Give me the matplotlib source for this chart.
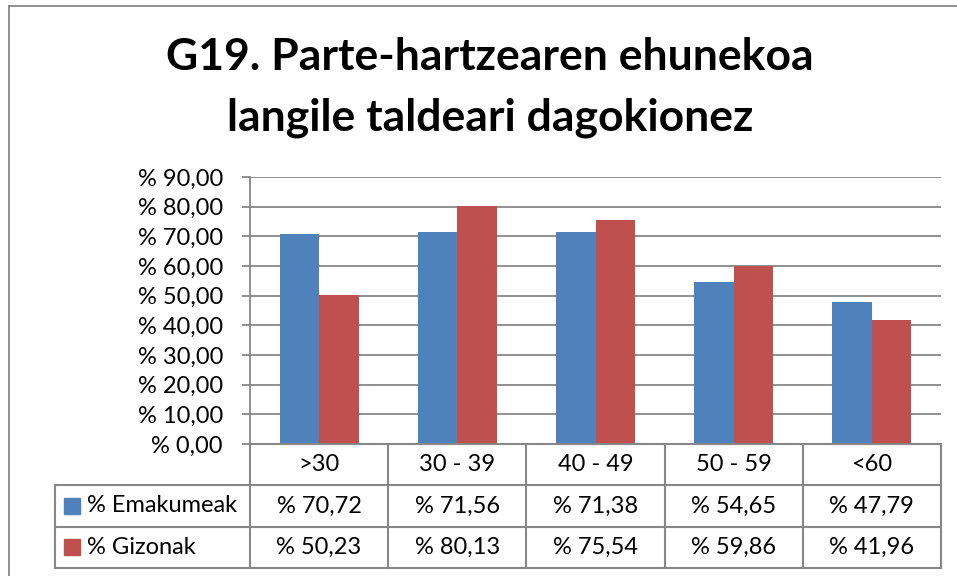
import matplotlib
matplotlib.use("Agg")
import matplotlib.pyplot as plt
from matplotlib.lines import Line2D
import numpy as np

plt.rcParams['font.family'] = ['Lato', 'DejaVu Sans']

# datuak
taldeak = [">30", "30 - 39", "40 - 49", "50 - 59", "<60"]
emakumeak = [70.72, 71.56, 71.38, 54.65, 47.79]
gizonak = [50.23, 80.13, 75.54, 59.86, 41.96]
serieak = ["% Emakumeak", "% Gizonak"]
y_tickak = [0, 10, 20, 30, 40, 50, 60, 70, 80, 90]
titulua = ["G19. Parte-hartzearen ehunekoa", "langile taldeari dagokionez"]

urdina = "#4F81BD"
gorria = "#C0504D"
grisa = "#878787"
tam = 17

def ehuneko(v):
    return ("%% %.2f" % v).replace(".", ",")

W, H = 957, 576
fig = plt.figure(figsize=(W / 100, H / 100), dpi=100)

# kanpoko markoa
fig.add_artist(Line2D([9 / W, 9 / W], [-0.05, 1 - 6 / H], color=grisa, lw=1.3, transform=fig.transFigure))
fig.add_artist(Line2D([9 / W, 1.05], [1 - 6 / H, 1 - 6 / H], color=grisa, lw=1.3, transform=fig.transFigure))

# titulua, bi lerro
for k, lerroa in enumerate(titulua):
    fig.text(490 / W, 1 - (70 + 60 * k) / H, lerroa, ha='center', va='baseline',
             fontsize=32, fontweight='bold')

# grafikoa
ax = fig.add_axes([250 / W, 1 - 444 / H, (941 - 250) / W, (444 - 177) / H])
x = np.arange(len(taldeak))
zab = 0.286
ax.bar(x - zab / 2, emakumeak, zab, color=urdina, zorder=3)
ax.bar(x + zab / 2, gizonak, zab, color=gorria, zorder=3)
ax.set_xlim(-0.5, len(taldeak) - 0.5)
ax.set_ylim(0, 90)
ax.set_yticks(y_tickak)
ax.set_yticklabels([ehuneko(v) for v in y_tickak], fontsize=tam)
ax.set_xticks([])
ax.yaxis.grid(True, color=grisa, lw=1.3, zorder=0)
ax.tick_params(axis='y', length=6, width=1.3, color=grisa, pad=13.5)
for s in ['top', 'right', 'bottom']:
    ax.spines[s].set_visible(False)
ax.spines['left'].set_color(grisa)
ax.spines['left'].set_linewidth(1.3)

# datu taula
zut = (941 - 250) / len(taldeak)
legw = (250 - 55) / zut
tx = fig.add_axes([55 / W, 1 - 568 / H, (941 - 55) / W, (568 - 444) / H])
ezk = -0.5 - legw
tx.set_xlim(ezk, len(taldeak) - 0.5)
tx.set_ylim(3, 0)
tx.axis('off')
for yy in [1, 2, 3]:
    tx.plot([ezk, len(taldeak) - 0.5], [yy, yy], color=grisa, lw=1.5, clip_on=False)
tx.plot([-0.5, len(taldeak) - 0.5], [0, 0], color=grisa, lw=1.5, clip_on=False)
tx.plot([ezk, ezk], [1, 3], color=grisa, lw=1.5, clip_on=False)
for i in range(len(taldeak) + 1):
    tx.plot([i - 0.5, i - 0.5], [0, 3], color=grisa, lw=1.5, clip_on=False)

for i, t in enumerate(taldeak):
    tx.text(i, 0.5, t, ha='center', va='center', fontsize=tam)
    tx.text(i, 1.5, ehuneko(emakumeak[i]), ha='center', va='center', fontsize=tam)
    tx.text(i, 2.5, ehuneko(gizonak[i]), ha='center', va='center', fontsize=tam)

for r, (izena, kol) in enumerate(zip(serieak, [urdina, gorria])):
    tx.plot([ezk + 17 / zut], [r + 1.5], marker='s', markersize=11.5, color=kol, clip_on=False)
    tx.text(ezk + 32 / zut, r + 1.5, izena, ha='left', va='center', fontsize=tam)

fig.savefig("out.png", dpi=100, facecolor='white')
